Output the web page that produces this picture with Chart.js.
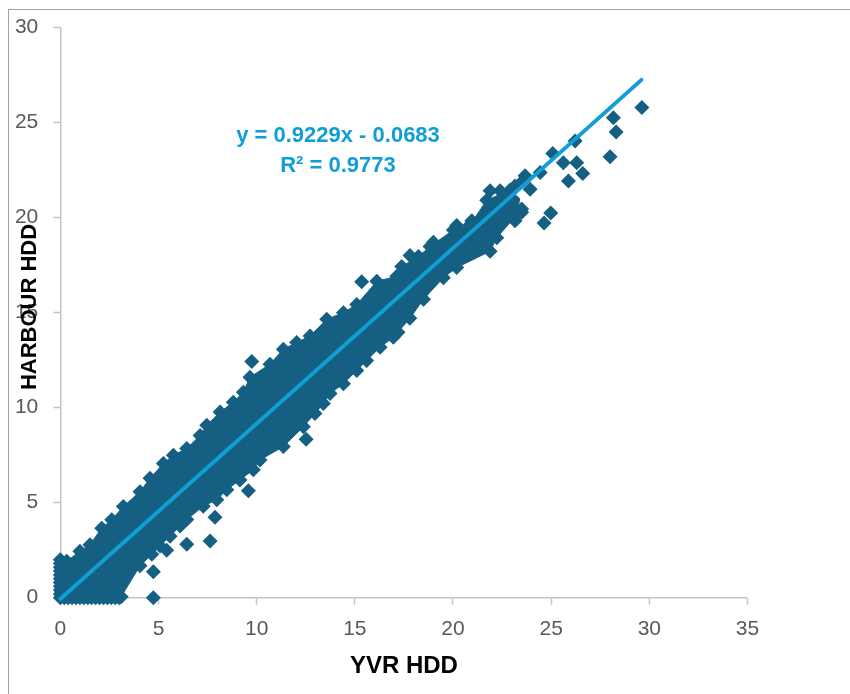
<!DOCTYPE html>
<html>
<head>
<meta charset="utf-8">
<script src="https://cdn.jsdelivr.net/npm/chart.js@4.4.0/dist/chart.umd.min.js"></script>
<style>html,body{margin:0;padding:0;background:#fff}canvas{display:block}</style>
</head>
<body>
<canvas id="c" width="850" height="694"></canvas>
<script>
// ---- data ----
const xAxisTitle = 'YVR HDD';
const yAxisTitle = 'HARBOUR HDD';
const equationLine = 'y = 0.9229x - 0.0683';
const rSquaredLine = 'R\u00B2 = 0.9773';
const trendSlope = 0.9229;
const trendIntercept = -0.0683;
const trendX = [0, 29.6];

// markers on the y = 0 row (YVR HDD values with HARBOUR HDD = 0)
const bottomRowX = [0, 0.2, 0.4, 0.6, 0.8, 1.0, 1.2, 1.4, 1.6, 1.8, 2.0, 2.2, 2.4, 2.6, 2.8, 3.0];
// markers on the x = 0 column
const leftColY = [0.2, 0.4, 0.6, 0.8, 1.0, 1.2, 1.4, 1.6, 1.8, 2.0];

// markers along the upper edge of the dense cloud (left to right)
const upperEdgeX = [0.33, 1.0, 1.51, 2.11, 2.62, 3.21, 4.06, 4.57, 5.25, 5.76, 6.44, 7.12, 7.46, 8.14, 8.81, 9.32, 9.66, 10.68, 11.36, 12.04, 12.72, 13.57, 14.42, 15.1, 16.12, 17.14, 17.39, 18.24, 18.83, 20.02, 20.87, 21.72, 22.91];
const upperEdgeY = [1.92, 2.45, 2.79, 3.66, 4.1, 4.8, 5.58, 6.28, 7.06, 7.5, 7.85, 8.54, 9.07, 9.77, 10.29, 10.81, 11.6, 12.29, 13.08, 13.43, 13.77, 14.65, 15.0, 15.43, 16.65, 16.91, 17.43, 17.96, 18.48, 19.35, 19.62, 20.92, 21.45];

// markers along the lower edge of the dense cloud (left to right)
const lowerEdgeX = [3.1, 4.06, 4.66, 5.08, 5.59, 6.1, 6.44, 7.28, 7.97, 8.48, 9.15, 9.83, 10.17, 11.36, 12.38, 12.97, 13.4, 13.74, 14.42, 15.1, 15.6, 16.29, 16.96, 17.2, 17.8, 18.5, 19.51, 20.19, 21.89, 22.23, 23.25];
const lowerEdgeY = [0.05, 1.68, 2.28, 2.72, 3.24, 3.77, 4.11, 4.81, 5.16, 5.68, 6.2, 6.73, 7.25, 7.95, 9.0, 9.69, 10.22, 10.74, 11.26, 11.96, 12.48, 13.18, 13.7, 13.97, 14.7, 15.7, 16.84, 17.37, 18.23, 18.94, 20.15];

// separate markers and outliers
const outlierX = [4.74, 4.74, 5.42, 6.44, 7.63, 7.88, 9.58, 12.52, 9.75, 15.35, 23.5, 23.59,
  29.62, 28.17, 28.31, 28.0, 26.22, 25.08, 25.62, 26.3, 26.61, 25.88, 24.44, 23.93, 24.98, 24.64, 23.16, 23.5, 22.91, 21.89, 22.4, 20.19, 20.96, 19.0, 17.81, 23.16, 23.67];
const outlierY = [0, 1.36, 2.5, 2.81, 2.98, 4.24, 5.63, 8.34, 12.43, 16.62, 20.28, 21.97,
  25.8, 25.25, 24.5, 23.2, 24.03, 23.38, 22.89, 22.89, 22.32, 21.93, 22.37, 21.5, 20.24, 19.72, 19.84, 20.45, 20.63, 21.41, 21.41, 19.58, 19.84, 18.71, 18.01, 21.67, 22.2];

// ---- build chart structures ----
const pts = (xs, ys) => xs.map((x, i) => ({x, y: ys[i]}));
const bottomRow = bottomRowX.map(x => ({x, y: 0}));
const leftCol = leftColY.map(y => ({x: 0, y}));
const upperEdge = pts(upperEdgeX, upperEdgeY);
const lowerEdge = pts(lowerEdgeX, lowerEdgeY);
const outliers = pts(outlierX, outlierY);

const bandPolygon = [{x: 0, y: 0}, leftCol[leftCol.length - 1]]
  .concat(upperEdge)
  .concat([{x: 23.4, y: 21.0}])
  .concat(lowerEdge.slice().reverse());
const scatterData = bottomRow.concat(leftCol, upperEdge, lowerEdge, outliers);
const trendData = trendX.map(x => ({x, y: trendSlope * x + trendIntercept}));

const FONT = '"Liberation Sans", Arial, Helvetica, sans-serif';
const DARK = '#156082';
const LIGHT = '#0F9ED5';
const AXIS = '#c4c4c4';

const textPlugin = {
  id: 'texts',
  beforeDraw(chart) {
    const ctx = chart.ctx;
    ctx.save();
    ctx.strokeStyle = '#a3a3a3';
    ctx.lineWidth = 1;
    ctx.strokeRect(8.5, 9.5, 1000, 1000);
    ctx.restore();
  },
  afterDraw(chart) {
    const ctx = chart.ctx;
    const a = chart.chartArea;
    ctx.save();
    ctx.fillStyle = '#000';
    ctx.textAlign = 'center';
    ctx.textBaseline = 'middle';
    ctx.font = 'bold 24px ' + FONT;
    ctx.fillText(xAxisTitle, (a.left + a.right) / 2, 666);
    ctx.save();
    ctx.translate(30, 307);
    ctx.rotate(-Math.PI / 2);
    ctx.font = 'bold 22px ' + FONT;
    ctx.fillText(yAxisTitle, 0, 0);
    ctx.restore();
    ctx.fillStyle = LIGHT;
    ctx.textBaseline = 'alphabetic';
    ctx.font = 'bold 22px ' + FONT;
    ctx.fillText(equationLine, 338, 142);
    ctx.fillText(rSquaredLine, 338, 172);
    ctx.restore();
  }
};

new Chart(document.getElementById('c'), {
  type: 'scatter',
  data: {
    datasets: [
      {
        type: 'line',
        data: trendData,
        borderColor: LIGHT,
        borderWidth: 4,
        borderCapStyle: 'round',
        pointRadius: 0,
        fill: false,
        clip: false,
        order: 0
      },
      {
        type: 'scatter',
        data: scatterData,
        pointStyle: 'rectRot',
        pointRadius: 7.5,
        backgroundColor: DARK,
        borderWidth: 0,
        clip: false,
        order: 1
      },
      {
        type: 'line',
        data: bandPolygon,
        borderColor: DARK,
        backgroundColor: DARK,
        borderWidth: 1,
        pointRadius: 0,
        tension: 0,
        fill: 'shape',
        clip: false,
        order: 2
      }
    ]
  },
  options: {
    responsive: false,
    animation: false,
    events: [],
    layout: { padding: { left: 0, top: 24, right: 102.5, bottom: 0 } },
    plugins: { legend: { display: false }, tooltip: { enabled: false } },
    scales: {
      x: {
        type: 'linear',
        min: 0, max: 35,
        ticks: { stepSize: 5, color: '#595959', font: { size: 21, family: FONT }, padding: 12 },
        grid: { display: true, drawOnChartArea: false, drawTicks: true, tickLength: 7, tickColor: AXIS, tickWidth: 1.5, color: AXIS },
        border: { display: true, color: AXIS, width: 1.5 },
        afterFit: s => { s.height = 96.3; }
      },
      y: {
        type: 'linear',
        min: 0, max: 30,
        ticks: { stepSize: 5, color: '#595959', font: { size: 21, family: FONT }, padding: 15 },
        grid: { display: true, drawOnChartArea: false, drawTicks: true, tickLength: 7, tickColor: AXIS, tickWidth: 1.5, color: AXIS },
        border: { display: true, color: AXIS, width: 1.5 },
        afterFit: s => { s.width = 60.3; }
      }
    }
  },
  plugins: [textPlugin]
});
</script>
</body>
</html>
